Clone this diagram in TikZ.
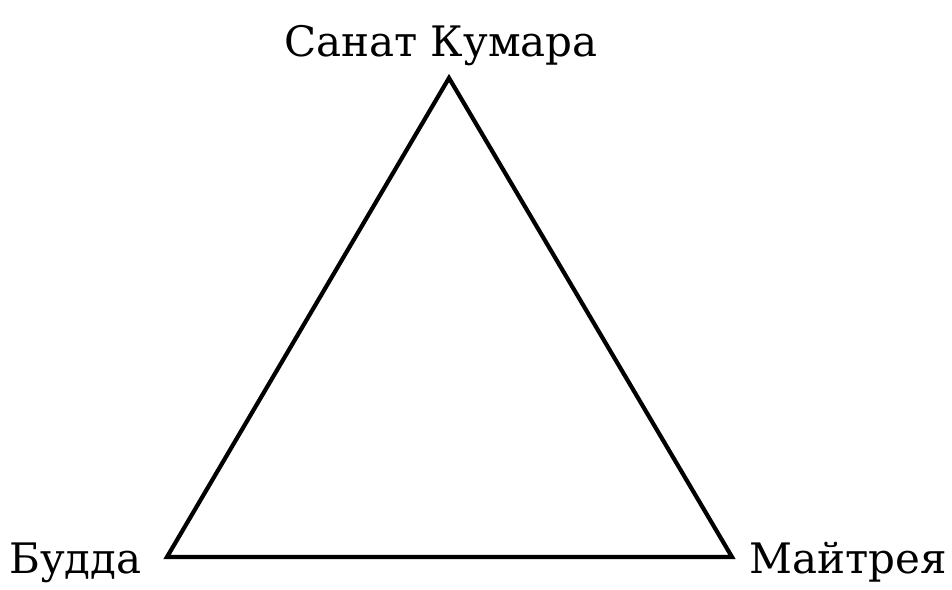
\documentclass[tikz,border=0pt]{standalone}
\usepackage{fontspec}
\setmainfont{DejaVu Serif}
\usetikzlibrary{positioning,calc}
\definecolor{ink}{HTML}{000000}
\tikzset{
  % --- nodes
  vert/.style  = {inner sep=0pt, font=\fontsize{42}{46}\selectfont, text=ink},
  % --- edges
  side/.style  = {draw=ink, line width=4.2pt, line join=miter},
}
\begin{document}
\begin{tikzpicture}[x=1pt,y=1pt]
  \useasboundingbox (0,0) rectangle (952,589);
  \coordinate (kumara) at (449,511);
  \coordinate (budda)  at (167,32);
  \coordinate (maitr)  at (732,32);
  \node[vert, anchor=base] (lk) at (441,532) {Санат Кумара};
  \node[vert, anchor=base west] (lb) at (9,16) {Будда};
  \node[vert, anchor=base west] (lm) at (749,16) {Майтрея};
  \draw[side] (kumara)--(maitr)--(budda)--cycle;
\end{tikzpicture}
\end{document}
